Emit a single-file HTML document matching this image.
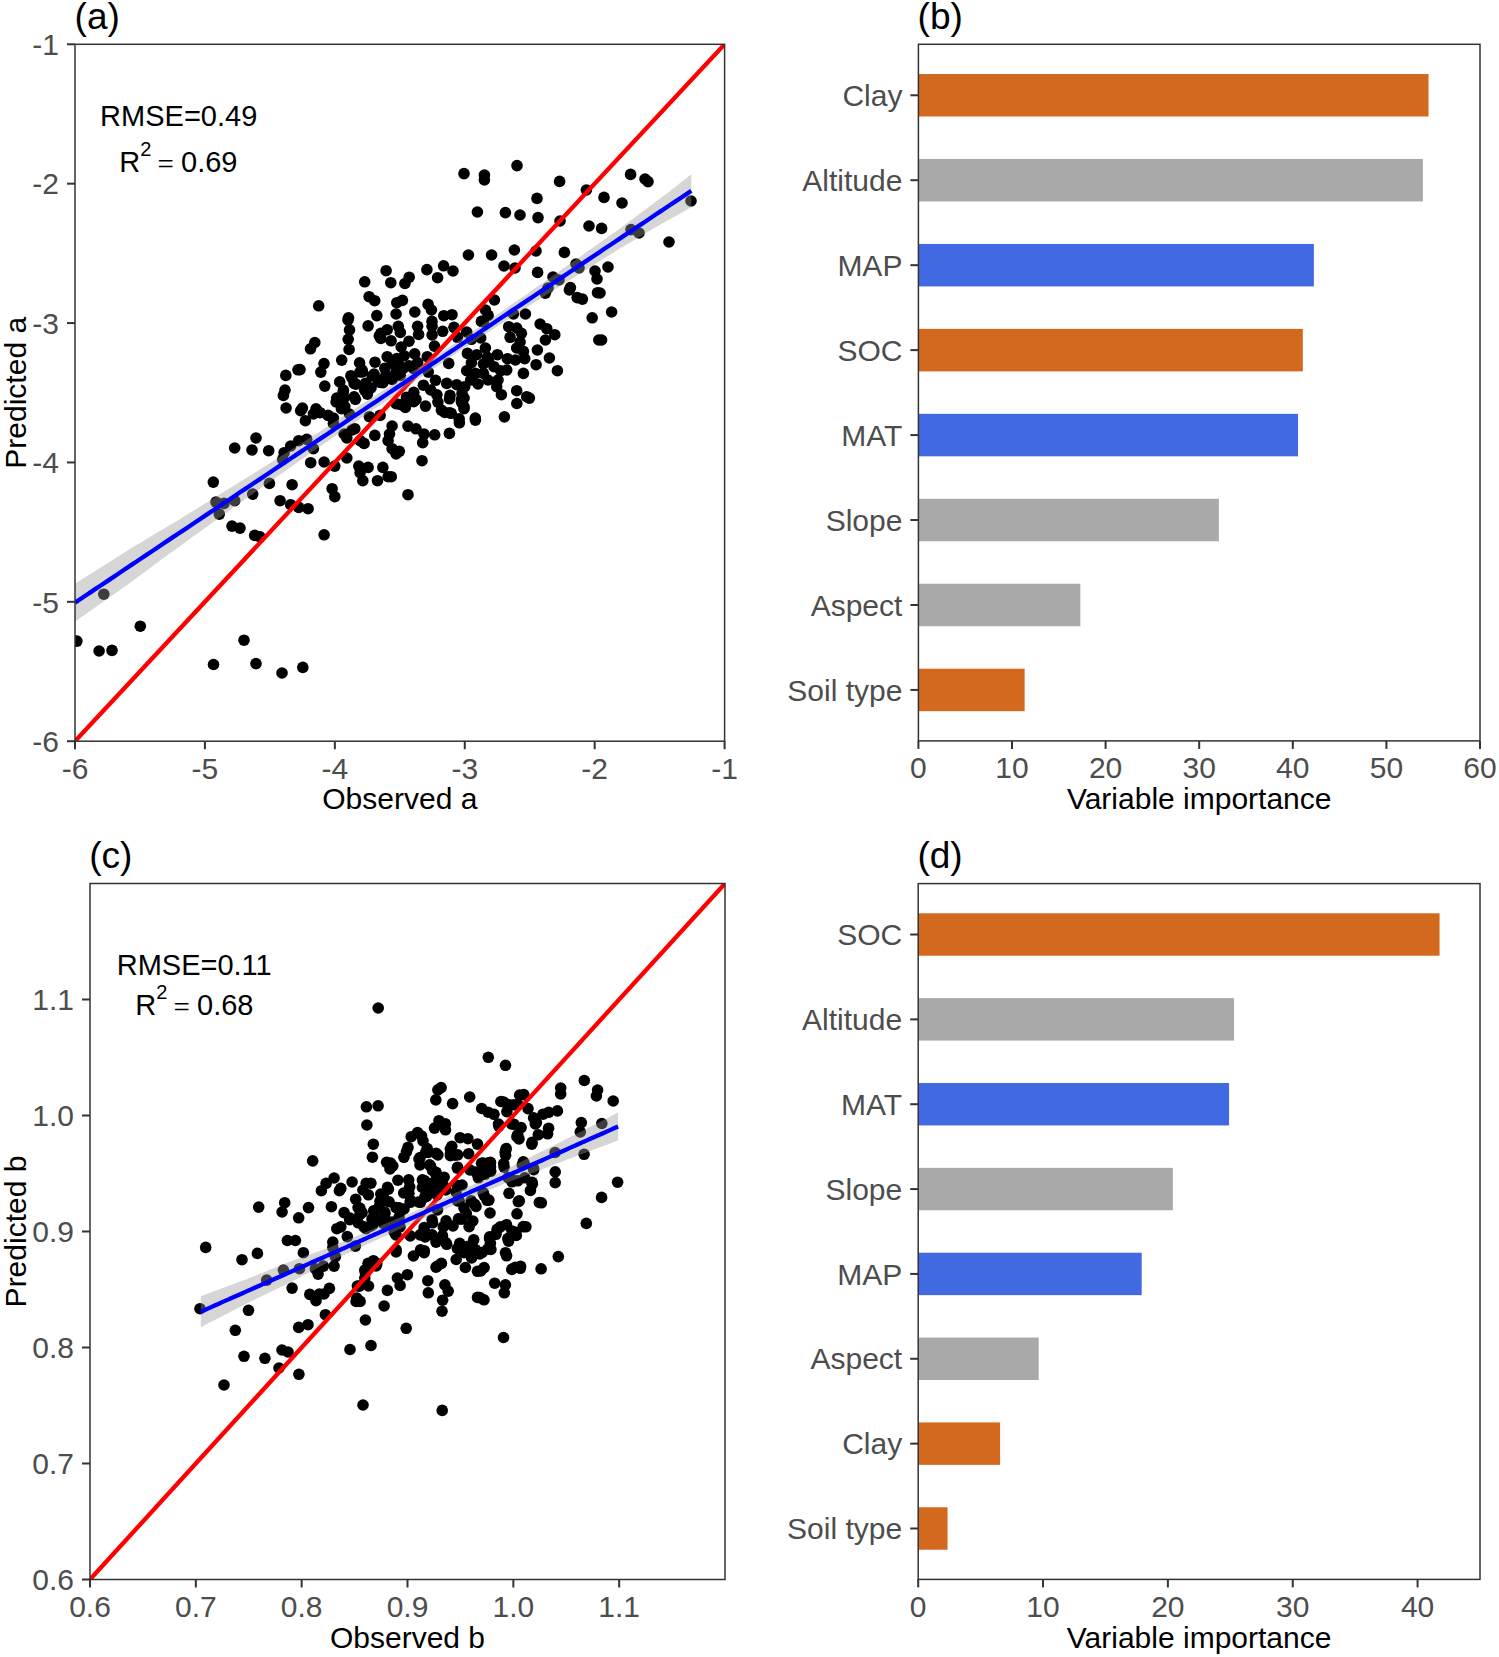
<!DOCTYPE html><html><head><meta charset="utf-8"><style>html,body{margin:0;padding:0;background:#fff;} svg{display:block} text{font-family:"Liberation Sans", sans-serif;}</style></head><body>
<svg width="1499" height="1657" viewBox="0 0 1499 1657">
<rect width="1499" height="1657" fill="#fff"/>
<clipPath id="ca"><rect x="75.0" y="44.3" width="649.6" height="696.9000000000001"/></clipPath>
<g clip-path="url(#ca)">
<g fill="#000"><circle cx="464.0" cy="173.6" r="5.8"/><circle cx="484.4" cy="175.0" r="5.8"/><circle cx="484.4" cy="180.0" r="5.8"/><circle cx="517.0" cy="165.6" r="5.8"/><circle cx="559.6" cy="181.4" r="5.8"/><circle cx="537.0" cy="198.4" r="5.8"/><circle cx="586.4" cy="190.0" r="5.8"/><circle cx="604.0" cy="197.4" r="5.8"/><circle cx="622.0" cy="203.0" r="5.8"/><circle cx="630.6" cy="174.4" r="5.8"/><circle cx="645.0" cy="179.0" r="5.8"/><circle cx="648.0" cy="181.6" r="5.8"/><circle cx="691.0" cy="201.0" r="5.8"/><circle cx="477.4" cy="212.0" r="5.8"/><circle cx="505.4" cy="212.6" r="5.8"/><circle cx="520.0" cy="215.0" r="5.8"/><circle cx="538.0" cy="217.6" r="5.8"/><circle cx="560.0" cy="221.0" r="5.8"/><circle cx="589.0" cy="226.0" r="5.8"/><circle cx="601.6" cy="228.4" r="5.8"/><circle cx="631.0" cy="229.6" r="5.8"/><circle cx="639.0" cy="233.0" r="5.8"/><circle cx="669.0" cy="242.0" r="5.8"/><circle cx="468.4" cy="255.0" r="5.8"/><circle cx="491.6" cy="255.0" r="5.8"/><circle cx="514.4" cy="250.0" r="5.8"/><circle cx="536.0" cy="251.0" r="5.8"/><circle cx="564.4" cy="252.4" r="5.8"/><circle cx="576.0" cy="264.0" r="5.8"/><circle cx="579.0" cy="268.0" r="5.8"/><circle cx="504.0" cy="266.0" r="5.8"/><circle cx="515.0" cy="268.0" r="5.8"/><circle cx="537.6" cy="272.4" r="5.8"/><circle cx="595.0" cy="271.0" r="5.8"/><circle cx="597.0" cy="279.0" r="5.8"/><circle cx="608.0" cy="267.0" r="5.8"/><circle cx="426.9" cy="269.6" r="5.8"/><circle cx="443.6" cy="265.8" r="5.8"/><circle cx="453.0" cy="271.0" r="5.8"/><circle cx="437.6" cy="277.7" r="5.8"/><circle cx="409.2" cy="277.2" r="5.8"/><circle cx="404.9" cy="283.5" r="5.8"/><circle cx="553.0" cy="277.0" r="5.8"/><circle cx="559.0" cy="280.0" r="5.8"/><circle cx="548.0" cy="288.0" r="5.8"/><circle cx="545.3" cy="293.2" r="5.8"/><circle cx="570.4" cy="287.6" r="5.8"/><circle cx="600.0" cy="293.0" r="5.8"/><circle cx="577.2" cy="297.6" r="5.8"/><circle cx="582.4" cy="299.1" r="5.8"/><circle cx="494.4" cy="300.0" r="5.8"/><circle cx="611.6" cy="312.0" r="5.8"/><circle cx="592.2" cy="317.8" r="5.8"/><circle cx="601.6" cy="340.0" r="5.8"/><circle cx="569.4" cy="290.0" r="5.8"/><circle cx="597.5" cy="292.7" r="5.8"/><circle cx="386.1" cy="270.7" r="5.8"/><circle cx="390.8" cy="282.7" r="5.8"/><circle cx="364.7" cy="281.8" r="5.8"/><circle cx="369.1" cy="296.7" r="5.8"/><circle cx="374.7" cy="300.7" r="5.8"/><circle cx="396.8" cy="302.7" r="5.8"/><circle cx="402.4" cy="300.4" r="5.8"/><circle cx="428.1" cy="304.4" r="5.8"/><circle cx="431.4" cy="310.0" r="5.8"/><circle cx="318.7" cy="305.8" r="5.8"/><circle cx="376.8" cy="315.6" r="5.8"/><circle cx="396.1" cy="314.0" r="5.8"/><circle cx="414.8" cy="312.0" r="5.8"/><circle cx="348.5" cy="317.8" r="5.8"/><circle cx="368.1" cy="325.9" r="5.8"/><circle cx="443.8" cy="315.7" r="5.8"/><circle cx="349.5" cy="329.9" r="5.8"/><circle cx="348.2" cy="339.3" r="5.8"/><circle cx="349.1" cy="349.5" r="5.8"/><circle cx="380.8" cy="333.4" r="5.8"/><circle cx="380.8" cy="338.5" r="5.8"/><circle cx="314.8" cy="342.5" r="5.8"/><circle cx="310.5" cy="348.8" r="5.8"/><circle cx="341.7" cy="360.1" r="5.8"/><circle cx="324.0" cy="363.6" r="5.8"/><circle cx="320.8" cy="372.1" r="5.8"/><circle cx="298.0" cy="369.8" r="5.8"/><circle cx="285.8" cy="375.4" r="5.8"/><circle cx="285.0" cy="390.1" r="5.8"/><circle cx="283.4" cy="395.4" r="5.8"/><circle cx="324.8" cy="386.1" r="5.8"/><circle cx="359.6" cy="362.9" r="5.8"/><circle cx="375.0" cy="362.2" r="5.8"/><circle cx="350.9" cy="375.7" r="5.8"/><circle cx="362.1" cy="370.1" r="5.8"/><circle cx="374.1" cy="374.1" r="5.8"/><circle cx="339.7" cy="381.9" r="5.8"/><circle cx="343.4" cy="390.1" r="5.8"/><circle cx="354.1" cy="383.4" r="5.8"/><circle cx="364.7" cy="390.1" r="5.8"/><circle cx="365.6" cy="383.2" r="5.8"/><circle cx="378.1" cy="380.4" r="5.8"/><circle cx="336.7" cy="398.1" r="5.8"/><circle cx="354.1" cy="396.8" r="5.8"/><circle cx="367.4" cy="394.1" r="5.8"/><circle cx="452.0" cy="314.7" r="5.8"/><circle cx="432.0" cy="321.4" r="5.8"/><circle cx="485.4" cy="310.0" r="5.8"/><circle cx="488.1" cy="315.4" r="5.8"/><circle cx="481.4" cy="321.4" r="5.8"/><circle cx="525.4" cy="314.0" r="5.8"/><circle cx="513.4" cy="314.0" r="5.8"/><circle cx="540.1" cy="324.0" r="5.8"/><circle cx="546.8" cy="328.7" r="5.8"/><circle cx="554.8" cy="334.7" r="5.8"/><circle cx="545.4" cy="340.0" r="5.8"/><circle cx="537.4" cy="350.0" r="5.8"/><circle cx="549.4" cy="358.0" r="5.8"/><circle cx="557.4" cy="370.7" r="5.8"/><circle cx="536.1" cy="364.7" r="5.8"/><circle cx="516.8" cy="403.5" r="5.8"/><circle cx="529.4" cy="398.1" r="5.8"/><circle cx="504.4" cy="416.9" r="5.8"/><circle cx="416.0" cy="399.4" r="5.8"/><circle cx="425.5" cy="406.1" r="5.8"/><circle cx="437.9" cy="402.1" r="5.8"/><circle cx="449.5" cy="398.8" r="5.8"/><circle cx="461.4" cy="399.4" r="5.8"/><circle cx="441.4" cy="410.1" r="5.8"/><circle cx="449.4" cy="412.7" r="5.8"/><circle cx="464.0" cy="408.7" r="5.8"/><circle cx="459.4" cy="422.8" r="5.8"/><circle cx="475.4" cy="420.1" r="5.8"/><circle cx="408.0" cy="426.1" r="5.8"/><circle cx="416.0" cy="428.8" r="5.8"/><circle cx="424.0" cy="434.1" r="5.8"/><circle cx="434.7" cy="434.8" r="5.8"/><circle cx="449.4" cy="433.4" r="5.8"/><circle cx="598.8" cy="340.0" r="5.8"/><circle cx="405.3" cy="407.4" r="5.8"/><circle cx="461.4" cy="402.1" r="5.8"/><circle cx="286.1" cy="408.0" r="5.8"/><circle cx="300.7" cy="410.7" r="5.8"/><circle cx="305.4" cy="420.7" r="5.8"/><circle cx="313.4" cy="414.0" r="5.8"/><circle cx="320.1" cy="412.7" r="5.8"/><circle cx="328.1" cy="415.4" r="5.8"/><circle cx="333.4" cy="418.0" r="5.8"/><circle cx="336.1" cy="401.9" r="5.8"/><circle cx="344.1" cy="398.0" r="5.8"/><circle cx="355.4" cy="399.3" r="5.8"/><circle cx="333.4" cy="423.4" r="5.8"/><circle cx="341.4" cy="408.7" r="5.8"/><circle cx="349.4" cy="414.0" r="5.8"/><circle cx="369.4" cy="416.7" r="5.8"/><circle cx="380.1" cy="415.4" r="5.8"/><circle cx="392.1" cy="426.0" r="5.8"/><circle cx="389.5" cy="434.0" r="5.8"/><circle cx="388.1" cy="440.7" r="5.8"/><circle cx="392.1" cy="448.7" r="5.8"/><circle cx="396.1" cy="454.0" r="5.8"/><circle cx="396.1" cy="403.7" r="5.8"/><circle cx="344.1" cy="434.0" r="5.8"/><circle cx="352.1" cy="430.0" r="5.8"/><circle cx="360.1" cy="440.7" r="5.8"/><circle cx="364.1" cy="443.4" r="5.8"/><circle cx="346.8" cy="438.0" r="5.8"/><circle cx="374.8" cy="435.4" r="5.8"/><circle cx="354.8" cy="428.7" r="5.8"/><circle cx="256.0" cy="438.0" r="5.8"/><circle cx="234.7" cy="448.0" r="5.8"/><circle cx="252.0" cy="450.0" r="5.8"/><circle cx="268.7" cy="450.7" r="5.8"/><circle cx="298.7" cy="440.7" r="5.8"/><circle cx="306.7" cy="439.4" r="5.8"/><circle cx="290.7" cy="446.0" r="5.8"/><circle cx="284.1" cy="452.7" r="5.8"/><circle cx="282.7" cy="459.4" r="5.8"/><circle cx="313.4" cy="448.7" r="5.8"/><circle cx="310.7" cy="462.7" r="5.8"/><circle cx="324.1" cy="462.0" r="5.8"/><circle cx="334.8" cy="466.1" r="5.8"/><circle cx="346.8" cy="458.0" r="5.8"/><circle cx="358.8" cy="466.1" r="5.8"/><circle cx="368.1" cy="467.4" r="5.8"/><circle cx="382.8" cy="467.4" r="5.8"/><circle cx="388.1" cy="476.7" r="5.8"/><circle cx="377.5" cy="480.7" r="5.8"/><circle cx="362.8" cy="480.7" r="5.8"/><circle cx="360.1" cy="472.7" r="5.8"/><circle cx="213.3" cy="482.1" r="5.8"/><circle cx="269.4" cy="483.4" r="5.8"/><circle cx="292.1" cy="484.7" r="5.8"/><circle cx="332.1" cy="488.7" r="5.8"/><circle cx="334.8" cy="496.7" r="5.8"/><circle cx="216.0" cy="502.1" r="5.8"/><circle cx="224.0" cy="503.4" r="5.8"/><circle cx="234.7" cy="500.7" r="5.8"/><circle cx="252.7" cy="494.1" r="5.8"/><circle cx="219.3" cy="514.1" r="5.8"/><circle cx="280.1" cy="500.7" r="5.8"/><circle cx="290.7" cy="504.7" r="5.8"/><circle cx="298.7" cy="507.4" r="5.8"/><circle cx="308.1" cy="508.7" r="5.8"/><circle cx="232.0" cy="526.1" r="5.8"/><circle cx="240.0" cy="528.1" r="5.8"/><circle cx="254.7" cy="535.4" r="5.8"/><circle cx="260.0" cy="536.8" r="5.8"/><circle cx="324.1" cy="534.8" r="5.8"/><circle cx="422.7" cy="442.7" r="5.8"/><circle cx="422.0" cy="460.7" r="5.8"/><circle cx="399.3" cy="451.3" r="5.8"/><circle cx="391.3" cy="476.7" r="5.8"/><circle cx="408.0" cy="494.7" r="5.8"/><circle cx="103.8" cy="594.2" r="5.8"/><circle cx="140.3" cy="626.2" r="5.8"/><circle cx="76.9" cy="641.1" r="5.8"/><circle cx="99.1" cy="651.0" r="5.8"/><circle cx="112.0" cy="650.4" r="5.8"/><circle cx="244.0" cy="640.2" r="5.8"/><circle cx="213.5" cy="664.5" r="5.8"/><circle cx="256.0" cy="663.6" r="5.8"/><circle cx="282.0" cy="673.0" r="5.8"/><circle cx="302.8" cy="667.4" r="5.8"/><circle cx="412.0" cy="400.5" r="5.8"/><circle cx="464.1" cy="398.1" r="5.8"/><circle cx="464.1" cy="406.9" r="5.8"/><circle cx="444.8" cy="412.5" r="5.8"/><circle cx="451.2" cy="413.3" r="5.8"/><circle cx="475.3" cy="418.1" r="5.8"/><circle cx="459.2" cy="418.9" r="5.8"/><circle cx="400.0" cy="404.5" r="5.8"/><circle cx="348.0" cy="320.0" r="5.8"/><circle cx="300.0" cy="369.6" r="5.8"/><circle cx="379.3" cy="336.0" r="5.8"/><circle cx="362.4" cy="372.0" r="5.8"/><circle cx="372.1" cy="376.0" r="5.8"/><circle cx="380.1" cy="382.4" r="5.8"/><circle cx="356.0" cy="384.1" r="5.8"/><circle cx="366.5" cy="392.1" r="5.8"/><circle cx="343.2" cy="392.1" r="5.8"/><circle cx="344.8" cy="406.5" r="5.8"/><circle cx="413.7" cy="401.7" r="5.8"/><circle cx="302.4" cy="408.1" r="5.8"/><circle cx="316.0" cy="408.9" r="5.8"/><circle cx="352.0" cy="378.0" r="5.8"/><circle cx="360.0" cy="372.0" r="5.8"/><circle cx="371.0" cy="388.0" r="5.8"/><circle cx="442.7" cy="331.3" r="5.8"/><circle cx="454.0" cy="327.3" r="5.8"/><circle cx="466.7" cy="332.0" r="5.8"/><circle cx="457.4" cy="337.3" r="5.8"/><circle cx="483.4" cy="322.0" r="5.8"/><circle cx="480.7" cy="338.0" r="5.8"/><circle cx="471.4" cy="339.3" r="5.8"/><circle cx="508.7" cy="326.7" r="5.8"/><circle cx="516.7" cy="328.0" r="5.8"/><circle cx="521.4" cy="333.3" r="5.8"/><circle cx="510.1" cy="337.3" r="5.8"/><circle cx="520.1" cy="342.0" r="5.8"/><circle cx="448.7" cy="363.4" r="5.8"/><circle cx="467.4" cy="353.4" r="5.8"/><circle cx="476.7" cy="354.7" r="5.8"/><circle cx="485.4" cy="348.0" r="5.8"/><circle cx="487.4" cy="357.4" r="5.8"/><circle cx="497.4" cy="354.7" r="5.8"/><circle cx="507.4" cy="358.7" r="5.8"/><circle cx="515.4" cy="360.0" r="5.8"/><circle cx="523.4" cy="351.4" r="5.8"/><circle cx="524.7" cy="358.7" r="5.8"/><circle cx="466.7" cy="370.7" r="5.8"/><circle cx="475.4" cy="373.4" r="5.8"/><circle cx="483.4" cy="373.4" r="5.8"/><circle cx="494.0" cy="366.7" r="5.8"/><circle cx="506.7" cy="370.0" r="5.8"/><circle cx="523.4" cy="373.4" r="5.8"/><circle cx="478.0" cy="384.0" r="5.8"/><circle cx="498.0" cy="380.0" r="5.8"/><circle cx="496.7" cy="386.7" r="5.8"/><circle cx="446.7" cy="383.4" r="5.8"/><circle cx="456.7" cy="384.7" r="5.8"/><circle cx="464.7" cy="386.7" r="5.8"/><circle cx="450.0" cy="395.4" r="5.8"/><circle cx="462.0" cy="393.4" r="5.8"/><circle cx="516.7" cy="390.7" r="5.8"/><circle cx="501.4" cy="394.7" r="5.8"/><circle cx="526.7" cy="396.7" r="5.8"/><circle cx="471.4" cy="362.7" r="5.8"/><circle cx="483.4" cy="364.0" r="5.8"/><circle cx="470.7" cy="380.0" r="5.8"/><circle cx="488.7" cy="361.4" r="5.8"/><circle cx="500.7" cy="370.7" r="5.8"/><circle cx="516.7" cy="348.0" r="5.8"/><circle cx="488.0" cy="380.0" r="5.8"/><circle cx="387.2" cy="329.7" r="5.8"/><circle cx="398.3" cy="326.3" r="5.8"/><circle cx="400.3" cy="332.5" r="5.8"/><circle cx="417.6" cy="326.3" r="5.8"/><circle cx="418.6" cy="334.5" r="5.8"/><circle cx="432.1" cy="326.3" r="5.8"/><circle cx="432.1" cy="335.0" r="5.8"/><circle cx="391.1" cy="340.8" r="5.8"/><circle cx="401.2" cy="347.0" r="5.8"/><circle cx="409.0" cy="341.2" r="5.8"/><circle cx="434.5" cy="346.1" r="5.8"/><circle cx="387.2" cy="356.7" r="5.8"/><circle cx="414.7" cy="353.8" r="5.8"/><circle cx="427.3" cy="356.7" r="5.8"/><circle cx="396.9" cy="358.6" r="5.8"/><circle cx="404.1" cy="355.7" r="5.8"/><circle cx="417.6" cy="362.5" r="5.8"/><circle cx="409.0" cy="365.8" r="5.8"/><circle cx="399.3" cy="365.4" r="5.8"/><circle cx="392.1" cy="363.4" r="5.8"/><circle cx="384.8" cy="368.3" r="5.8"/><circle cx="385.8" cy="375.5" r="5.8"/><circle cx="395.9" cy="372.1" r="5.8"/><circle cx="403.2" cy="368.3" r="5.8"/><circle cx="413.8" cy="368.7" r="5.8"/><circle cx="382.9" cy="382.7" r="5.8"/><circle cx="392.1" cy="379.4" r="5.8"/><circle cx="400.3" cy="375.5" r="5.8"/><circle cx="428.3" cy="372.1" r="5.8"/><circle cx="435.5" cy="380.3" r="5.8"/><circle cx="423.4" cy="385.2" r="5.8"/><circle cx="430.7" cy="390.0" r="5.8"/><circle cx="413.8" cy="392.4" r="5.8"/><circle cx="436.9" cy="394.8" r="5.8"/><circle cx="406.5" cy="397.2" r="5.8"/></g>
<line x1="75.0" y1="741.2" x2="724.6" y2="44.3" stroke="#FF0000" stroke-width="4.3"/>
<polygon points="75.0,583.7 80.1,580.4 85.3,577.2 90.4,573.9 95.5,570.7 100.7,567.4 105.8,564.2 111.0,560.9 116.1,557.7 121.2,554.5 126.4,551.2 131.5,548.0 136.6,544.9 141.8,541.9 146.9,538.8 152.0,535.7 157.2,532.6 162.3,529.6 167.4,526.5 172.6,523.4 177.7,520.4 182.9,517.2 188.0,514.1 193.1,510.9 198.3,507.7 203.4,504.5 208.5,501.4 213.7,498.2 218.8,495.0 223.9,491.8 229.1,488.6 234.2,485.5 239.3,482.3 244.5,479.1 249.6,475.9 254.8,472.7 259.9,469.5 265.0,466.2 270.2,463.0 275.3,459.7 280.4,456.5 285.6,453.2 290.7,450.0 295.8,446.7 301.0,443.5 306.1,440.2 311.2,437.0 316.4,433.7 321.5,430.4 326.7,427.1 331.8,423.8 336.9,420.5 342.1,417.1 347.2,413.8 352.3,410.5 357.5,407.1 362.6,403.8 367.7,400.5 372.9,397.2 378.0,393.8 383.1,390.5 388.3,387.2 393.4,383.8 398.6,380.5 403.7,377.2 408.8,373.8 414.0,370.5 419.1,367.2 424.2,363.8 429.4,360.3 434.5,356.9 439.6,353.5 444.8,350.0 449.9,346.6 455.1,343.2 460.2,339.7 465.3,336.3 470.5,332.9 475.6,329.5 480.7,326.0 485.9,322.4 491.0,318.9 496.1,315.3 501.3,311.8 506.4,308.2 511.5,304.6 516.7,301.1 521.8,297.5 527.0,294.0 532.1,290.4 537.2,286.8 542.4,283.2 547.5,279.6 552.6,276.0 557.8,272.4 562.9,268.7 568.0,265.1 573.2,261.5 578.3,257.9 583.4,254.2 588.6,250.6 593.7,247.0 598.9,243.4 604.0,239.7 609.1,236.1 614.3,232.5 619.4,228.9 624.5,225.1 629.7,221.2 634.8,217.4 639.9,213.6 645.1,209.7 650.2,205.9 655.3,202.1 660.5,198.2 665.6,194.4 670.8,190.4 675.9,186.4 681.0,182.3 686.2,178.3 691.3,174.3 691.3,207.3 686.2,210.1 681.0,213.0 675.9,215.8 670.8,218.7 665.6,221.5 660.5,224.5 655.3,227.6 650.2,230.6 645.1,233.6 639.9,236.7 634.8,239.7 629.7,242.7 624.5,245.8 619.4,248.8 614.3,252.1 609.1,255.3 604.0,258.5 598.9,261.8 593.7,265.0 588.6,268.3 583.4,271.5 578.3,274.7 573.2,278.0 568.0,281.2 562.9,284.5 557.8,287.7 552.6,290.9 547.5,294.2 542.4,297.4 537.2,300.7 532.1,304.0 527.0,307.3 521.8,310.6 516.7,313.9 511.5,317.2 506.4,320.5 501.3,323.8 496.1,327.1 491.0,330.4 485.9,333.7 480.7,337.0 475.6,340.5 470.5,343.9 465.3,347.3 460.2,350.7 455.1,354.2 449.9,357.6 444.8,361.0 439.6,364.5 434.5,367.9 429.4,371.3 424.2,374.8 419.1,378.2 414.0,381.8 408.8,385.3 403.7,388.8 398.6,392.4 393.4,395.9 388.3,399.4 383.1,403.0 378.0,406.5 372.9,410.0 367.7,413.6 362.6,417.1 357.5,420.6 352.3,424.2 347.2,427.7 342.1,431.2 336.9,434.8 331.8,438.3 326.7,441.9 321.5,445.4 316.4,449.0 311.2,452.6 306.1,456.2 301.0,459.8 295.8,463.4 290.7,467.1 285.6,470.7 280.4,474.3 275.3,477.9 270.2,481.5 265.0,485.1 259.9,488.7 254.8,492.4 249.6,496.0 244.5,499.7 239.3,503.4 234.2,507.1 229.1,510.7 223.9,514.4 218.8,518.1 213.7,521.8 208.5,525.5 203.4,529.2 198.3,532.9 193.1,536.6 188.0,540.3 182.9,543.9 177.7,547.7 172.6,551.5 167.4,555.3 162.3,559.1 157.2,562.8 152.0,566.6 146.9,570.4 141.8,574.2 136.6,578.0 131.5,581.8 126.4,585.5 121.2,589.1 116.1,592.7 111.0,596.3 105.8,599.9 100.7,603.6 95.5,607.2 90.4,610.8 85.3,614.4 80.1,618.0 75.0,621.7" fill="#999999" fill-opacity="0.4"/>
<path d="M75.0,602.7 L80.1,599.2 L85.3,595.8 L90.4,592.4 L95.5,588.9 L100.7,585.5 L105.8,582.1 L111.0,578.6 L116.1,575.2 L121.2,571.8 L126.4,568.3 L131.5,564.9 L136.6,561.5 L141.8,558.0 L146.9,554.6 L152.0,551.2 L157.2,547.7 L162.3,544.3 L167.4,540.9 L172.6,537.4 L177.7,534.0 L182.9,530.6 L188.0,527.2 L193.1,523.7 L198.3,520.3 L203.4,516.9 L208.5,513.4 L213.7,510.0 L218.8,506.6 L223.9,503.1 L229.1,499.7 L234.2,496.3 L239.3,492.8 L244.5,489.4 L249.6,486.0 L254.8,482.5 L259.9,479.1 L265.0,475.7 L270.2,472.2 L275.3,468.8 L280.4,465.4 L285.6,461.9 L290.7,458.5 L295.8,455.1 L301.0,451.6 L306.1,448.2 L311.2,444.8 L316.4,441.3 L321.5,437.9 L326.7,434.5 L331.8,431.1 L336.9,427.6 L342.1,424.2 L347.2,420.8 L352.3,417.3 L357.5,413.9 L362.6,410.5 L367.7,407.0 L372.9,403.6 L378.0,400.2 L383.1,396.7 L388.3,393.3 L393.4,389.9 L398.6,386.4 L403.7,383.0 L408.8,379.6 L414.0,376.1 L419.1,372.7 L424.2,369.3 L429.4,365.8 L434.5,362.4 L439.6,359.0 L444.8,355.5 L449.9,352.1 L455.1,348.7 L460.2,345.2 L465.3,341.8 L470.5,338.4 L475.6,335.0 L480.7,331.5 L485.9,328.1 L491.0,324.7 L496.1,321.2 L501.3,317.8 L506.4,314.4 L511.5,310.9 L516.7,307.5 L521.8,304.1 L527.0,300.6 L532.1,297.2 L537.2,293.8 L542.4,290.3 L547.5,286.9 L552.6,283.5 L557.8,280.0 L562.9,276.6 L568.0,273.2 L573.2,269.7 L578.3,266.3 L583.4,262.9 L588.6,259.4 L593.7,256.0 L598.9,252.6 L604.0,249.1 L609.1,245.7 L614.3,242.3 L619.4,238.9 L624.5,235.4 L629.7,232.0 L634.8,228.6 L639.9,225.1 L645.1,221.7 L650.2,218.3 L655.3,214.8 L660.5,211.4 L665.6,208.0 L670.8,204.5 L675.9,201.1 L681.0,197.7 L686.2,194.2 L691.3,190.8" fill="none" stroke="#0000FF" stroke-width="4.3"/>
</g>
<rect x="75.0" y="44.3" width="649.60" height="696.90" fill="none" stroke="#333333" stroke-width="1.5"/>
<line x1="75.00" y1="741.2" x2="75.00" y2="749.2" stroke="#333333" stroke-width="2"/>
<text x="75.00" y="778.7" text-anchor="middle" fill="#4D4D4D" font-size="30">-6</text>
<line x1="67.0" y1="741.20" x2="75.0" y2="741.20" stroke="#333333" stroke-width="2"/>
<text x="59.0" y="751.90" text-anchor="end" fill="#4D4D4D" font-size="30">-6</text>
<line x1="204.92" y1="741.2" x2="204.92" y2="749.2" stroke="#333333" stroke-width="2"/>
<text x="204.92" y="778.7" text-anchor="middle" fill="#4D4D4D" font-size="30">-5</text>
<line x1="67.0" y1="601.82" x2="75.0" y2="601.82" stroke="#333333" stroke-width="2"/>
<text x="59.0" y="612.52" text-anchor="end" fill="#4D4D4D" font-size="30">-5</text>
<line x1="334.84" y1="741.2" x2="334.84" y2="749.2" stroke="#333333" stroke-width="2"/>
<text x="334.84" y="778.7" text-anchor="middle" fill="#4D4D4D" font-size="30">-4</text>
<line x1="67.0" y1="462.44" x2="75.0" y2="462.44" stroke="#333333" stroke-width="2"/>
<text x="59.0" y="473.14" text-anchor="end" fill="#4D4D4D" font-size="30">-4</text>
<line x1="464.76" y1="741.2" x2="464.76" y2="749.2" stroke="#333333" stroke-width="2"/>
<text x="464.76" y="778.7" text-anchor="middle" fill="#4D4D4D" font-size="30">-3</text>
<line x1="67.0" y1="323.06" x2="75.0" y2="323.06" stroke="#333333" stroke-width="2"/>
<text x="59.0" y="333.76" text-anchor="end" fill="#4D4D4D" font-size="30">-3</text>
<line x1="594.68" y1="741.2" x2="594.68" y2="749.2" stroke="#333333" stroke-width="2"/>
<text x="594.68" y="778.7" text-anchor="middle" fill="#4D4D4D" font-size="30">-2</text>
<line x1="67.0" y1="183.68" x2="75.0" y2="183.68" stroke="#333333" stroke-width="2"/>
<text x="59.0" y="194.38" text-anchor="end" fill="#4D4D4D" font-size="30">-2</text>
<line x1="724.60" y1="741.2" x2="724.60" y2="749.2" stroke="#333333" stroke-width="2"/>
<text x="724.60" y="778.7" text-anchor="middle" fill="#4D4D4D" font-size="30">-1</text>
<line x1="67.0" y1="44.30" x2="75.0" y2="44.30" stroke="#333333" stroke-width="2"/>
<text x="59.0" y="55.00" text-anchor="end" fill="#4D4D4D" font-size="30">-1</text>
<text x="399.8" y="808.5" text-anchor="middle" fill="#000" font-size="30">Observed a</text>
<text transform="translate(25.8,392.8) rotate(-90)" text-anchor="middle" fill="#000" font-size="30">Predicted a</text>
<text x="74.6" y="28.5" fill="#000" font-size="37">(a)</text>
<clipPath id="cc"><rect x="90.0" y="883.5" width="635.0" height="696.0"/></clipPath>
<g clip-path="url(#cc)">
<g fill="#000"><circle cx="378.2" cy="1008.0" r="5.8"/><circle cx="488.3" cy="1057.3" r="5.8"/><circle cx="505.5" cy="1065.3" r="5.8"/><circle cx="224.0" cy="1385.0" r="5.8"/><circle cx="363.0" cy="1405.0" r="5.8"/><circle cx="442.2" cy="1410.4" r="5.8"/><circle cx="503.5" cy="1337.5" r="5.8"/><circle cx="558.3" cy="1256.6" r="5.8"/><circle cx="541.1" cy="1268.8" r="5.8"/><circle cx="586.3" cy="1223.4" r="5.8"/><circle cx="601.6" cy="1197.4" r="5.8"/><circle cx="617.6" cy="1182.2" r="5.8"/><circle cx="200.0" cy="1308.7" r="5.8"/><circle cx="235.3" cy="1330.3" r="5.8"/><circle cx="244.0" cy="1356.3" r="5.8"/><circle cx="264.9" cy="1358.3" r="5.8"/><circle cx="298.9" cy="1374.3" r="5.8"/><circle cx="282.0" cy="1350.0" r="5.8"/><circle cx="279.0" cy="1368.0" r="5.8"/><circle cx="350.0" cy="1349.5" r="5.8"/><circle cx="371.0" cy="1345.5" r="5.8"/><circle cx="406.2" cy="1328.3" r="5.8"/><circle cx="584.3" cy="1080.5" r="5.8"/><circle cx="597.6" cy="1090.0" r="5.8"/><circle cx="596.4" cy="1096.0" r="5.8"/><circle cx="613.2" cy="1101.0" r="5.8"/><circle cx="560.7" cy="1088.0" r="5.8"/><circle cx="560.7" cy="1094.0" r="5.8"/><circle cx="248.5" cy="1310.3" r="5.8"/><circle cx="288.0" cy="1352.0" r="5.8"/><circle cx="312.7" cy="1160.9" r="5.8"/><circle cx="372.4" cy="1157.2" r="5.8"/><circle cx="386.6" cy="1162.3" r="5.8"/><circle cx="334.1" cy="1178.0" r="5.8"/><circle cx="326.1" cy="1183.4" r="5.8"/><circle cx="321.4" cy="1190.7" r="5.8"/><circle cx="339.4" cy="1190.7" r="5.8"/><circle cx="352.1" cy="1182.0" r="5.8"/><circle cx="366.2" cy="1183.2" r="5.8"/><circle cx="370.9" cy="1183.2" r="5.8"/><circle cx="362.9" cy="1190.0" r="5.8"/><circle cx="368.4" cy="1194.8" r="5.8"/><circle cx="355.7" cy="1199.2" r="5.8"/><circle cx="358.1" cy="1207.4" r="5.8"/><circle cx="362.1" cy="1212.7" r="5.8"/><circle cx="344.1" cy="1212.6" r="5.8"/><circle cx="350.1" cy="1218.0" r="5.8"/><circle cx="358.2" cy="1222.8" r="5.8"/><circle cx="366.1" cy="1228.7" r="5.8"/><circle cx="380.8" cy="1194.0" r="5.8"/><circle cx="387.5" cy="1187.4" r="5.8"/><circle cx="379.5" cy="1206.0" r="5.8"/><circle cx="374.1" cy="1216.7" r="5.8"/><circle cx="384.8" cy="1214.0" r="5.8"/><circle cx="372.8" cy="1224.7" r="5.8"/><circle cx="383.5" cy="1223.4" r="5.8"/><circle cx="331.4" cy="1206.7" r="5.8"/><circle cx="258.7" cy="1207.1" r="5.8"/><circle cx="284.7" cy="1202.7" r="5.8"/><circle cx="282.1" cy="1212.0" r="5.8"/><circle cx="308.5" cy="1207.6" r="5.8"/><circle cx="298.7" cy="1217.8" r="5.8"/><circle cx="336.8" cy="1228.7" r="5.8"/><circle cx="347.3" cy="1236.6" r="5.8"/><circle cx="287.4" cy="1240.5" r="5.8"/><circle cx="295.4" cy="1240.5" r="5.8"/><circle cx="332.8" cy="1242.1" r="5.8"/><circle cx="332.8" cy="1247.4" r="5.8"/><circle cx="303.4" cy="1252.7" r="5.8"/><circle cx="355.4" cy="1246.1" r="5.8"/><circle cx="335.4" cy="1256.7" r="5.8"/><circle cx="334.1" cy="1266.1" r="5.8"/><circle cx="323.4" cy="1266.1" r="5.8"/><circle cx="315.4" cy="1268.7" r="5.8"/><circle cx="318.1" cy="1274.1" r="5.8"/><circle cx="299.4" cy="1268.7" r="5.8"/><circle cx="283.4" cy="1270.1" r="5.8"/><circle cx="266.7" cy="1280.1" r="5.8"/><circle cx="205.7" cy="1247.4" r="5.8"/><circle cx="242.0" cy="1259.7" r="5.8"/><circle cx="257.4" cy="1253.4" r="5.8"/><circle cx="368.8" cy="1264.7" r="5.8"/><circle cx="364.8" cy="1270.1" r="5.8"/><circle cx="364.8" cy="1278.1" r="5.8"/><circle cx="376.8" cy="1263.4" r="5.8"/><circle cx="359.4" cy="1286.1" r="5.8"/><circle cx="368.5" cy="1286.0" r="5.8"/><circle cx="292.1" cy="1288.1" r="5.8"/><circle cx="309.8" cy="1294.4" r="5.8"/><circle cx="329.4" cy="1288.4" r="5.8"/><circle cx="319.4" cy="1294.1" r="5.8"/><circle cx="387.4" cy="1290.4" r="5.8"/><circle cx="356.8" cy="1298.1" r="5.8"/><circle cx="404.0" cy="1209.0" r="5.8"/><circle cx="453.0" cy="1226.0" r="5.8"/><circle cx="490.0" cy="1213.0" r="5.8"/><circle cx="390.0" cy="1169.0" r="5.8"/><circle cx="420.0" cy="1165.0" r="5.8"/><circle cx="470.0" cy="1170.0" r="5.8"/><circle cx="437.0" cy="1195.0" r="5.8"/><circle cx="462.0" cy="1185.0" r="5.8"/><circle cx="403.9" cy="1157.3" r="5.8"/><circle cx="419.0" cy="1159.0" r="5.8"/><circle cx="390.6" cy="1163.1" r="5.8"/><circle cx="428.4" cy="1152.4" r="5.8"/><circle cx="437.9" cy="1155.0" r="5.8"/><circle cx="450.4" cy="1155.6" r="5.8"/><circle cx="468.6" cy="1153.7" r="5.8"/><circle cx="505.2" cy="1152.4" r="5.8"/><circle cx="397.9" cy="1180.2" r="5.8"/><circle cx="408.7" cy="1179.8" r="5.8"/><circle cx="422.4" cy="1179.9" r="5.8"/><circle cx="432.6" cy="1170.5" r="5.8"/><circle cx="457.4" cy="1168.2" r="5.8"/><circle cx="483.1" cy="1163.1" r="5.8"/><circle cx="490.5" cy="1166.8" r="5.8"/><circle cx="477.5" cy="1174.3" r="5.8"/><circle cx="484.9" cy="1174.3" r="5.8"/><circle cx="504.1" cy="1167.1" r="5.8"/><circle cx="522.3" cy="1164.9" r="5.8"/><circle cx="388.4" cy="1189.2" r="5.8"/><circle cx="403.7" cy="1193.0" r="5.8"/><circle cx="422.4" cy="1187.5" r="5.8"/><circle cx="433.6" cy="1182.7" r="5.8"/><circle cx="441.0" cy="1189.2" r="5.8"/><circle cx="456.0" cy="1192.0" r="5.8"/><circle cx="389.1" cy="1201.8" r="5.8"/><circle cx="399.0" cy="1207.9" r="5.8"/><circle cx="410.2" cy="1202.3" r="5.8"/><circle cx="420.5" cy="1202.3" r="5.8"/><circle cx="509.0" cy="1193.3" r="5.8"/><circle cx="518.3" cy="1201.6" r="5.8"/><circle cx="517.0" cy="1213.8" r="5.8"/><circle cx="478.4" cy="1177.8" r="5.8"/><circle cx="512.0" cy="1181.8" r="5.8"/><circle cx="459.1" cy="1200.8" r="5.8"/><circle cx="474.7" cy="1204.2" r="5.8"/><circle cx="487.1" cy="1200.3" r="5.8"/><circle cx="466.3" cy="1213.5" r="5.8"/><circle cx="461.6" cy="1219.1" r="5.8"/><circle cx="472.8" cy="1221.0" r="5.8"/><circle cx="469.1" cy="1226.6" r="5.8"/><circle cx="437.5" cy="1209.9" r="5.8"/><circle cx="446.1" cy="1220.8" r="5.8"/><circle cx="432.6" cy="1222.8" r="5.8"/><circle cx="424.2" cy="1227.5" r="5.8"/><circle cx="385.0" cy="1219.1" r="5.8"/><circle cx="399.0" cy="1217.2" r="5.8"/><circle cx="394.3" cy="1232.2" r="5.8"/><circle cx="410.2" cy="1235.9" r="5.8"/><circle cx="425.2" cy="1236.9" r="5.8"/><circle cx="437.3" cy="1238.7" r="5.8"/><circle cx="445.7" cy="1242.5" r="5.8"/><circle cx="459.7" cy="1243.4" r="5.8"/><circle cx="473.7" cy="1239.7" r="5.8"/><circle cx="489.6" cy="1236.9" r="5.8"/><circle cx="497.1" cy="1229.4" r="5.8"/><circle cx="506.5" cy="1224.7" r="5.8"/><circle cx="515.8" cy="1232.2" r="5.8"/><circle cx="523.2" cy="1226.6" r="5.8"/><circle cx="487.7" cy="1249.0" r="5.8"/><circle cx="505.5" cy="1252.7" r="5.8"/><circle cx="420.5" cy="1249.9" r="5.8"/><circle cx="396.2" cy="1249.9" r="5.8"/><circle cx="469.1" cy="1249.0" r="5.8"/><circle cx="441.1" cy="1087.6" r="5.8"/><circle cx="437.9" cy="1089.8" r="5.8"/><circle cx="435.8" cy="1099.9" r="5.8"/><circle cx="452.6" cy="1103.6" r="5.8"/><circle cx="469.7" cy="1097.0" r="5.8"/><circle cx="366.4" cy="1106.8" r="5.8"/><circle cx="378.1" cy="1105.8" r="5.8"/><circle cx="366.9" cy="1125.0" r="5.8"/><circle cx="373.3" cy="1144.2" r="5.8"/><circle cx="481.7" cy="1108.5" r="5.8"/><circle cx="488.1" cy="1112.2" r="5.8"/><circle cx="494.0" cy="1114.3" r="5.8"/><circle cx="500.9" cy="1101.5" r="5.8"/><circle cx="509.4" cy="1104.7" r="5.8"/><circle cx="506.9" cy="1111.7" r="5.8"/><circle cx="518.0" cy="1104.7" r="5.8"/><circle cx="519.6" cy="1095.1" r="5.8"/><circle cx="498.8" cy="1126.1" r="5.8"/><circle cx="511.6" cy="1123.9" r="5.8"/><circle cx="516.9" cy="1136.7" r="5.8"/><circle cx="439.0" cy="1120.7" r="5.8"/><circle cx="445.4" cy="1123.9" r="5.8"/><circle cx="434.5" cy="1128.1" r="5.8"/><circle cx="445.5" cy="1129.8" r="5.8"/><circle cx="417.6" cy="1132.5" r="5.8"/><circle cx="411.2" cy="1136.7" r="5.8"/><circle cx="423.0" cy="1141.0" r="5.8"/><circle cx="460.1" cy="1137.7" r="5.8"/><circle cx="467.9" cy="1138.7" r="5.8"/><circle cx="477.5" cy="1144.1" r="5.8"/><circle cx="408.0" cy="1147.4" r="5.8"/><circle cx="427.2" cy="1148.5" r="5.8"/><circle cx="451.8" cy="1146.3" r="5.8"/><circle cx="506.2" cy="1148.5" r="5.8"/><circle cx="523.8" cy="1094.6" r="5.8"/><circle cx="503.7" cy="1102.0" r="5.8"/><circle cx="514.0" cy="1104.8" r="5.8"/><circle cx="528.0" cy="1108.6" r="5.8"/><circle cx="533.6" cy="1117.9" r="5.8"/><circle cx="536.4" cy="1122.6" r="5.8"/><circle cx="543.0" cy="1114.2" r="5.8"/><circle cx="548.6" cy="1112.3" r="5.8"/><circle cx="557.4" cy="1110.9" r="5.8"/><circle cx="513.9" cy="1124.2" r="5.8"/><circle cx="521.1" cy="1127.6" r="5.8"/><circle cx="517.7" cy="1134.7" r="5.8"/><circle cx="519.0" cy="1138.9" r="5.8"/><circle cx="548.6" cy="1128.2" r="5.8"/><circle cx="547.6" cy="1133.8" r="5.8"/><circle cx="538.3" cy="1134.7" r="5.8"/><circle cx="531.8" cy="1144.1" r="5.8"/><circle cx="505.6" cy="1150.6" r="5.8"/><circle cx="505.6" cy="1155.3" r="5.8"/><circle cx="581.3" cy="1122.6" r="5.8"/><circle cx="580.3" cy="1131.9" r="5.8"/><circle cx="601.8" cy="1123.5" r="5.8"/><circle cx="555.1" cy="1152.5" r="5.8"/><circle cx="584.1" cy="1154.3" r="5.8"/><circle cx="523.3" cy="1161.8" r="5.8"/><circle cx="503.7" cy="1163.7" r="5.8"/><circle cx="488.5" cy="1162.8" r="5.8"/><circle cx="490.7" cy="1171.3" r="5.8"/><circle cx="483.2" cy="1169.2" r="5.8"/><circle cx="533.4" cy="1168.1" r="5.8"/><circle cx="512.0" cy="1179.9" r="5.8"/><circle cx="524.8" cy="1177.8" r="5.8"/><circle cx="532.3" cy="1184.2" r="5.8"/><circle cx="530.4" cy="1190.5" r="5.8"/><circle cx="483.2" cy="1192.7" r="5.8"/><circle cx="541.4" cy="1202.8" r="5.8"/><circle cx="555.2" cy="1171.9" r="5.8"/><circle cx="555.2" cy="1182.6" r="5.8"/><circle cx="525.9" cy="1226.8" r="5.8"/><circle cx="500.3" cy="1226.8" r="5.8"/><circle cx="512.0" cy="1231.1" r="5.8"/><circle cx="516.3" cy="1235.4" r="5.8"/><circle cx="507.8" cy="1238.6" r="5.8"/><circle cx="496.0" cy="1234.3" r="5.8"/><circle cx="489.6" cy="1238.6" r="5.8"/><circle cx="490.9" cy="1249.4" r="5.8"/><circle cx="482.1" cy="1252.5" r="5.8"/><circle cx="506.6" cy="1255.8" r="5.8"/><circle cx="484.1" cy="1267.6" r="5.8"/><circle cx="515.2" cy="1267.4" r="5.8"/><circle cx="520.6" cy="1266.3" r="5.8"/><circle cx="316.0" cy="1300.7" r="5.8"/><circle cx="324.0" cy="1294.0" r="5.8"/><circle cx="325.4" cy="1314.7" r="5.8"/><circle cx="298.7" cy="1327.4" r="5.8"/><circle cx="308.0" cy="1324.7" r="5.8"/><circle cx="368.1" cy="1263.3" r="5.8"/><circle cx="365.4" cy="1272.7" r="5.8"/><circle cx="373.4" cy="1260.7" r="5.8"/><circle cx="376.1" cy="1266.0" r="5.8"/><circle cx="357.4" cy="1286.0" r="5.8"/><circle cx="356.1" cy="1301.4" r="5.8"/><circle cx="360.1" cy="1301.4" r="5.8"/><circle cx="365.4" cy="1320.0" r="5.8"/><circle cx="384.1" cy="1306.0" r="5.8"/><circle cx="397.4" cy="1278.0" r="5.8"/><circle cx="400.1" cy="1285.4" r="5.8"/><circle cx="407.4" cy="1274.7" r="5.8"/><circle cx="396.1" cy="1252.0" r="5.8"/><circle cx="413.4" cy="1256.0" r="5.8"/><circle cx="424.1" cy="1252.7" r="5.8"/><circle cx="427.8" cy="1280.7" r="5.8"/><circle cx="428.3" cy="1292.8" r="5.8"/><circle cx="437.4" cy="1266.0" r="5.8"/><circle cx="441.4" cy="1263.4" r="5.8"/><circle cx="444.9" cy="1284.8" r="5.8"/><circle cx="448.2" cy="1291.1" r="5.8"/><circle cx="442.6" cy="1300.2" r="5.8"/><circle cx="442.0" cy="1311.2" r="5.8"/><circle cx="456.2" cy="1259.5" r="5.8"/><circle cx="465.4" cy="1267.5" r="5.8"/><circle cx="471.6" cy="1258.0" r="5.8"/><circle cx="464.1" cy="1252.7" r="5.8"/><circle cx="477.5" cy="1271.3" r="5.8"/><circle cx="477.5" cy="1297.4" r="5.8"/><circle cx="424.3" cy="1250.7" r="5.8"/><circle cx="436.0" cy="1242.1" r="5.8"/><circle cx="446.7" cy="1244.3" r="5.8"/><circle cx="457.4" cy="1248.5" r="5.8"/><circle cx="468.0" cy="1246.4" r="5.8"/><circle cx="475.5" cy="1249.6" r="5.8"/><circle cx="479.8" cy="1253.9" r="5.8"/><circle cx="490.4" cy="1243.2" r="5.8"/><circle cx="436.0" cy="1267.2" r="5.8"/><circle cx="480.8" cy="1271.0" r="5.8"/><circle cx="508.6" cy="1241.1" r="5.8"/><circle cx="511.8" cy="1269.4" r="5.8"/><circle cx="520.3" cy="1268.3" r="5.8"/><circle cx="494.7" cy="1283.2" r="5.8"/><circle cx="505.4" cy="1284.8" r="5.8"/><circle cx="504.3" cy="1292.8" r="5.8"/><circle cx="479.8" cy="1297.6" r="5.8"/><circle cx="484.0" cy="1299.8" r="5.8"/><circle cx="392.8" cy="1166.0" r="5.8"/><circle cx="406.5" cy="1151.6" r="5.8"/><circle cx="425.7" cy="1152.4" r="5.8"/><circle cx="436.1" cy="1153.2" r="5.8"/><circle cx="450.5" cy="1153.2" r="5.8"/><circle cx="457.7" cy="1154.8" r="5.8"/><circle cx="430.5" cy="1166.0" r="5.8"/><circle cx="436.1" cy="1172.4" r="5.8"/><circle cx="444.1" cy="1177.2" r="5.8"/><circle cx="340.8" cy="1188.4" r="5.8"/><circle cx="409.7" cy="1186.8" r="5.8"/><circle cx="423.3" cy="1182.0" r="5.8"/><circle cx="433.7" cy="1186.0" r="5.8"/><circle cx="383.2" cy="1194.8" r="5.8"/><circle cx="408.9" cy="1193.2" r="5.8"/><circle cx="410.5" cy="1200.4" r="5.8"/><circle cx="418.5" cy="1202.0" r="5.8"/><circle cx="426.5" cy="1196.4" r="5.8"/><circle cx="438.5" cy="1183.6" r="5.8"/><circle cx="445.7" cy="1190.0" r="5.8"/><circle cx="456.9" cy="1185.2" r="5.8"/><circle cx="380.0" cy="1201.2" r="5.8"/><circle cx="396.0" cy="1207.6" r="5.8"/><circle cx="400.8" cy="1210.8" r="5.8"/><circle cx="373.6" cy="1210.8" r="5.8"/><circle cx="384.8" cy="1212.4" r="5.8"/><circle cx="372.0" cy="1218.9" r="5.8"/><circle cx="382.4" cy="1220.5" r="5.8"/><circle cx="360.0" cy="1208.4" r="5.8"/><circle cx="360.0" cy="1214.1" r="5.8"/><circle cx="349.6" cy="1219.7" r="5.8"/><circle cx="340.8" cy="1226.9" r="5.8"/><circle cx="364.0" cy="1226.9" r="5.8"/><circle cx="370.4" cy="1226.1" r="5.8"/><circle cx="392.0" cy="1222.1" r="5.8"/><circle cx="400.0" cy="1226.9" r="5.8"/><circle cx="432.1" cy="1219.7" r="5.8"/><circle cx="443.3" cy="1226.9" r="5.8"/><circle cx="424.1" cy="1230.1" r="5.8"/><circle cx="420.1" cy="1234.9" r="5.8"/><circle cx="432.1" cy="1234.9" r="5.8"/><circle cx="442.5" cy="1235.7" r="5.8"/><circle cx="458.5" cy="1218.9" r="5.8"/><circle cx="396.0" cy="1234.9" r="5.8"/><circle cx="444.0" cy="1124.8" r="5.8"/><circle cx="421.6" cy="1136.0" r="5.8"/><circle cx="450.4" cy="1148.8" r="5.8"/><circle cx="455.2" cy="1155.2" r="5.8"/><circle cx="420.0" cy="1157.6" r="5.8"/><circle cx="429.6" cy="1164.8" r="5.8"/><circle cx="457.6" cy="1167.2" r="5.8"/><circle cx="436.0" cy="1174.4" r="5.8"/><circle cx="424.8" cy="1180.8" r="5.8"/><circle cx="481.6" cy="1163.2" r="5.8"/><circle cx="490.5" cy="1162.4" r="5.8"/><circle cx="476.0" cy="1172.0" r="5.8"/><circle cx="487.3" cy="1171.2" r="5.8"/><circle cx="498.5" cy="1124.0" r="5.8"/><circle cx="532.1" cy="1142.4" r="5.8"/><circle cx="535.3" cy="1124.0" r="5.8"/><circle cx="524.1" cy="1163.2" r="5.8"/><circle cx="533.7" cy="1169.6" r="5.8"/><circle cx="508.1" cy="1177.6" r="5.8"/><circle cx="517.7" cy="1180.8" r="5.8"/><circle cx="532.1" cy="1182.4" r="5.8"/><circle cx="519.3" cy="1200.9" r="5.8"/><circle cx="539.3" cy="1202.5" r="5.8"/><circle cx="484.1" cy="1195.3" r="5.8"/><circle cx="488.9" cy="1200.1" r="5.8"/><circle cx="471.2" cy="1200.9" r="5.8"/><circle cx="476.0" cy="1206.5" r="5.8"/><circle cx="464.0" cy="1208.1" r="5.8"/><circle cx="444.0" cy="1186.5" r="5.8"/><circle cx="430.4" cy="1188.9" r="5.8"/><circle cx="424.8" cy="1196.9" r="5.8"/><circle cx="457.6" cy="1200.9" r="5.8"/></g>
<line x1="90.0" y1="1579.5" x2="725.0" y2="883.5" stroke="#FF0000" stroke-width="4.3"/>
<polygon points="200.8,1296.2 204.3,1294.9 207.8,1293.6 211.2,1292.3 214.7,1291.0 218.2,1289.7 221.7,1288.4 225.1,1287.1 228.6,1285.8 232.1,1284.5 235.6,1283.2 239.1,1281.9 242.5,1280.6 246.0,1279.4 249.5,1278.1 253.0,1276.7 256.4,1275.2 259.9,1273.8 263.4,1272.4 266.9,1271.0 270.4,1269.6 273.8,1268.2 277.3,1266.8 280.8,1265.4 284.3,1263.9 287.7,1262.5 291.2,1261.2 294.7,1259.9 298.2,1258.7 301.6,1257.5 305.1,1256.2 308.6,1255.0 312.1,1253.7 315.6,1252.5 319.0,1251.3 322.5,1250.0 326.0,1248.8 329.5,1247.6 332.9,1246.1 336.4,1244.6 339.9,1243.1 343.4,1241.6 346.9,1240.2 350.3,1238.7 353.8,1237.2 357.3,1235.7 360.8,1234.2 364.2,1232.7 367.7,1231.2 371.2,1229.8 374.7,1228.3 378.2,1226.8 381.6,1225.3 385.1,1223.8 388.6,1222.3 392.1,1220.9 395.5,1219.4 399.0,1217.9 402.5,1216.4 406.0,1214.9 409.5,1213.4 412.9,1211.9 416.4,1210.5 419.9,1209.0 423.4,1207.4 426.8,1205.8 430.3,1204.2 433.8,1202.6 437.3,1201.0 440.7,1199.5 444.2,1197.9 447.7,1196.3 451.2,1194.7 454.7,1193.1 458.1,1191.5 461.6,1189.9 465.1,1188.3 468.6,1186.8 472.0,1185.2 475.5,1183.6 479.0,1182.0 482.5,1180.4 486.0,1178.8 489.4,1177.2 492.9,1175.6 496.4,1174.1 499.9,1172.5 503.3,1170.7 506.8,1169.0 510.3,1167.2 513.8,1165.5 517.3,1163.8 520.7,1162.0 524.2,1160.3 527.7,1158.5 531.2,1156.8 534.6,1155.0 538.1,1153.3 541.6,1151.5 545.1,1149.8 548.5,1148.0 552.0,1146.3 555.5,1144.5 559.0,1142.8 562.5,1141.0 565.9,1139.3 569.4,1137.5 572.9,1135.7 576.4,1133.9 579.8,1132.2 583.3,1130.4 586.8,1128.6 590.3,1126.8 593.8,1125.0 597.2,1123.2 600.7,1121.5 604.2,1119.7 607.7,1117.9 611.1,1116.1 614.6,1114.3 618.1,1112.5 618.1,1140.5 614.6,1141.8 611.1,1143.1 607.7,1144.4 604.2,1145.7 600.7,1147.0 597.2,1148.3 593.8,1149.6 590.3,1150.9 586.8,1152.2 583.3,1153.5 579.8,1154.8 576.4,1156.1 572.9,1157.4 569.4,1158.7 565.9,1160.0 562.5,1161.4 559.0,1162.7 555.5,1164.0 552.0,1165.4 548.5,1166.7 545.1,1168.0 541.6,1169.4 538.1,1170.7 534.6,1172.1 531.2,1173.4 527.7,1174.7 524.2,1176.1 520.7,1177.4 517.3,1178.8 513.8,1180.1 510.3,1181.4 506.8,1182.8 503.3,1184.1 499.9,1185.5 496.4,1187.0 492.9,1188.5 489.4,1190.0 486.0,1191.5 482.5,1193.0 479.0,1194.5 475.5,1196.0 472.0,1197.5 468.6,1199.0 465.1,1200.5 461.6,1202.0 458.1,1203.5 454.7,1205.0 451.2,1206.5 447.7,1208.0 444.2,1209.5 440.7,1211.0 437.3,1212.5 433.8,1214.0 430.3,1215.5 426.8,1217.0 423.4,1218.5 419.9,1220.0 416.4,1221.6 412.9,1223.2 409.5,1224.8 406.0,1226.4 402.5,1228.0 399.0,1229.6 395.5,1231.2 392.1,1232.8 388.6,1234.4 385.1,1236.0 381.6,1237.6 378.2,1239.2 374.7,1240.8 371.2,1242.4 367.7,1244.0 364.2,1245.6 360.8,1247.2 357.3,1248.8 353.8,1250.4 350.3,1252.0 346.9,1253.6 343.4,1255.2 339.9,1256.8 336.4,1258.4 332.9,1260.0 329.5,1261.6 326.0,1263.5 322.5,1265.3 319.0,1267.2 315.6,1269.0 312.1,1270.9 308.6,1272.7 305.1,1274.6 301.6,1276.4 298.2,1278.3 294.7,1280.1 291.2,1282.0 287.7,1283.7 284.3,1285.4 280.8,1287.0 277.3,1288.7 273.8,1290.4 270.4,1292.1 266.9,1293.7 263.4,1295.4 259.9,1297.1 256.4,1298.8 253.0,1300.4 249.5,1302.1 246.0,1303.9 242.5,1305.7 239.1,1307.5 235.6,1309.3 232.1,1311.1 228.6,1312.9 225.1,1314.7 221.7,1316.5 218.2,1318.2 214.7,1320.0 211.2,1321.8 207.8,1323.6 204.3,1325.4 200.8,1327.2" fill="#999999" fill-opacity="0.4"/>
<path d="M200.8,1311.7 L204.3,1310.2 L207.8,1308.6 L211.2,1307.1 L214.7,1305.5 L218.2,1304.0 L221.7,1302.4 L225.1,1300.9 L228.6,1299.4 L232.1,1297.8 L235.6,1296.3 L239.1,1294.7 L242.5,1293.2 L246.0,1291.6 L249.5,1290.1 L253.0,1288.5 L256.4,1287.0 L259.9,1285.5 L263.4,1283.9 L266.9,1282.4 L270.4,1280.8 L273.8,1279.3 L277.3,1277.7 L280.8,1276.2 L284.3,1274.7 L287.7,1273.1 L291.2,1271.6 L294.7,1270.0 L298.2,1268.5 L301.6,1266.9 L305.1,1265.4 L308.6,1263.9 L312.1,1262.3 L315.6,1260.8 L319.0,1259.2 L322.5,1257.7 L326.0,1256.1 L329.5,1254.6 L332.9,1253.1 L336.4,1251.5 L339.9,1250.0 L343.4,1248.4 L346.9,1246.9 L350.3,1245.3 L353.8,1243.8 L357.3,1242.2 L360.8,1240.7 L364.2,1239.2 L367.7,1237.6 L371.2,1236.1 L374.7,1234.5 L378.2,1233.0 L381.6,1231.4 L385.1,1229.9 L388.6,1228.4 L392.1,1226.8 L395.5,1225.3 L399.0,1223.7 L402.5,1222.2 L406.0,1220.6 L409.5,1219.1 L412.9,1217.6 L416.4,1216.0 L419.9,1214.5 L423.4,1212.9 L426.8,1211.4 L430.3,1209.8 L433.8,1208.3 L437.3,1206.8 L440.7,1205.2 L444.2,1203.7 L447.7,1202.1 L451.2,1200.6 L454.7,1199.0 L458.1,1197.5 L461.6,1196.0 L465.1,1194.4 L468.6,1192.9 L472.0,1191.3 L475.5,1189.8 L479.0,1188.2 L482.5,1186.7 L486.0,1185.1 L489.4,1183.6 L492.9,1182.1 L496.4,1180.5 L499.9,1179.0 L503.3,1177.4 L506.8,1175.9 L510.3,1174.3 L513.8,1172.8 L517.3,1171.3 L520.7,1169.7 L524.2,1168.2 L527.7,1166.6 L531.2,1165.1 L534.6,1163.5 L538.1,1162.0 L541.6,1160.5 L545.1,1158.9 L548.5,1157.4 L552.0,1155.8 L555.5,1154.3 L559.0,1152.7 L562.5,1151.2 L565.9,1149.7 L569.4,1148.1 L572.9,1146.6 L576.4,1145.0 L579.8,1143.5 L583.3,1141.9 L586.8,1140.4 L590.3,1138.8 L593.8,1137.3 L597.2,1135.8 L600.7,1134.2 L604.2,1132.7 L607.7,1131.1 L611.1,1129.6 L614.6,1128.0 L618.1,1126.5" fill="none" stroke="#0000FF" stroke-width="4.3"/>
</g>
<rect x="90.0" y="883.5" width="635.00" height="696.00" fill="none" stroke="#333333" stroke-width="1.5"/>
<line x1="90.00" y1="1579.5" x2="90.00" y2="1587.5" stroke="#333333" stroke-width="2"/>
<text x="90.00" y="1617.0" text-anchor="middle" fill="#4D4D4D" font-size="30">0.6</text>
<line x1="82.0" y1="1579.50" x2="90.0" y2="1579.50" stroke="#333333" stroke-width="2"/>
<text x="74.0" y="1590.20" text-anchor="end" fill="#4D4D4D" font-size="30">0.6</text>
<line x1="195.83" y1="1579.5" x2="195.83" y2="1587.5" stroke="#333333" stroke-width="2"/>
<text x="195.83" y="1617.0" text-anchor="middle" fill="#4D4D4D" font-size="30">0.7</text>
<line x1="82.0" y1="1463.50" x2="90.0" y2="1463.50" stroke="#333333" stroke-width="2"/>
<text x="74.0" y="1474.20" text-anchor="end" fill="#4D4D4D" font-size="30">0.7</text>
<line x1="301.67" y1="1579.5" x2="301.67" y2="1587.5" stroke="#333333" stroke-width="2"/>
<text x="301.67" y="1617.0" text-anchor="middle" fill="#4D4D4D" font-size="30">0.8</text>
<line x1="82.0" y1="1347.50" x2="90.0" y2="1347.50" stroke="#333333" stroke-width="2"/>
<text x="74.0" y="1358.20" text-anchor="end" fill="#4D4D4D" font-size="30">0.8</text>
<line x1="407.50" y1="1579.5" x2="407.50" y2="1587.5" stroke="#333333" stroke-width="2"/>
<text x="407.50" y="1617.0" text-anchor="middle" fill="#4D4D4D" font-size="30">0.9</text>
<line x1="82.0" y1="1231.50" x2="90.0" y2="1231.50" stroke="#333333" stroke-width="2"/>
<text x="74.0" y="1242.20" text-anchor="end" fill="#4D4D4D" font-size="30">0.9</text>
<line x1="513.33" y1="1579.5" x2="513.33" y2="1587.5" stroke="#333333" stroke-width="2"/>
<text x="513.33" y="1617.0" text-anchor="middle" fill="#4D4D4D" font-size="30">1.0</text>
<line x1="82.0" y1="1115.50" x2="90.0" y2="1115.50" stroke="#333333" stroke-width="2"/>
<text x="74.0" y="1126.20" text-anchor="end" fill="#4D4D4D" font-size="30">1.0</text>
<line x1="619.17" y1="1579.5" x2="619.17" y2="1587.5" stroke="#333333" stroke-width="2"/>
<text x="619.17" y="1617.0" text-anchor="middle" fill="#4D4D4D" font-size="30">1.1</text>
<line x1="82.0" y1="999.50" x2="90.0" y2="999.50" stroke="#333333" stroke-width="2"/>
<text x="74.0" y="1010.20" text-anchor="end" fill="#4D4D4D" font-size="30">1.1</text>
<text x="407.5" y="1647.5" text-anchor="middle" fill="#000" font-size="30">Observed b</text>
<text transform="translate(25.8,1231.5) rotate(-90)" text-anchor="middle" fill="#000" font-size="30">Predicted b</text>
<text x="89.2" y="867.5" fill="#000" font-size="37">(c)</text>
<text x="100.1" y="125.7" fill="#000" font-size="29">RMSE=0.49</text>
<text x="119.3" y="171.7" fill="#000" font-size="29">R<tspan font-size="20" dy="-15.5">2</tspan><tspan dy="18.1" dx="6" font-size="29" font-family="Liberation Serif">=</tspan><tspan dy="-2.6" dx="7.3">0.69</tspan></text>
<text x="116.7" y="975.4" fill="#000" font-size="29">RMSE=0.11</text>
<text x="135.3" y="1014.7" fill="#000" font-size="29">R<tspan font-size="20" dy="-15.5">2</tspan><tspan dy="18.1" dx="6" font-size="29" font-family="Liberation Serif">=</tspan><tspan dy="-2.6" dx="7.3">0.68</tspan></text>
<rect x="918.4" y="74.03" width="510.12" height="42.48" fill="#D2691E"/>
<line x1="910.4" y1="95.27" x2="918.4" y2="95.27" stroke="#333333" stroke-width="2"/>
<text x="902.4" y="105.97" text-anchor="end" fill="#4D4D4D" font-size="30">Clay</text>
<rect x="918.4" y="158.98" width="504.50" height="42.48" fill="#A9A9A9"/>
<line x1="910.4" y1="180.22" x2="918.4" y2="180.22" stroke="#333333" stroke-width="2"/>
<text x="902.4" y="190.92" text-anchor="end" fill="#4D4D4D" font-size="30">Altitude</text>
<rect x="918.4" y="243.94" width="395.46" height="42.48" fill="#4169E1"/>
<line x1="910.4" y1="265.17" x2="918.4" y2="265.17" stroke="#333333" stroke-width="2"/>
<text x="902.4" y="275.87" text-anchor="end" fill="#4D4D4D" font-size="30">MAP</text>
<rect x="918.4" y="328.89" width="384.42" height="42.48" fill="#D2691E"/>
<line x1="910.4" y1="350.12" x2="918.4" y2="350.12" stroke="#333333" stroke-width="2"/>
<text x="902.4" y="360.82" text-anchor="end" fill="#4D4D4D" font-size="30">SOC</text>
<rect x="918.4" y="413.84" width="379.64" height="42.48" fill="#4169E1"/>
<line x1="910.4" y1="435.08" x2="918.4" y2="435.08" stroke="#333333" stroke-width="2"/>
<text x="902.4" y="445.78" text-anchor="end" fill="#4D4D4D" font-size="30">MAT</text>
<rect x="918.4" y="498.79" width="300.46" height="42.48" fill="#A9A9A9"/>
<line x1="910.4" y1="520.03" x2="918.4" y2="520.03" stroke="#333333" stroke-width="2"/>
<text x="902.4" y="530.73" text-anchor="end" fill="#4D4D4D" font-size="30">Slope</text>
<rect x="918.4" y="583.74" width="161.93" height="42.48" fill="#A9A9A9"/>
<line x1="910.4" y1="604.98" x2="918.4" y2="604.98" stroke="#333333" stroke-width="2"/>
<text x="902.4" y="615.68" text-anchor="end" fill="#4D4D4D" font-size="30">Aspect</text>
<rect x="918.4" y="668.69" width="106.24" height="42.48" fill="#D2691E"/>
<line x1="910.4" y1="689.93" x2="918.4" y2="689.93" stroke="#333333" stroke-width="2"/>
<text x="902.4" y="700.63" text-anchor="end" fill="#4D4D4D" font-size="30">Soil type</text>
<rect x="918.4" y="44.3" width="561.60" height="696.60" fill="none" stroke="#333333" stroke-width="1.5"/>
<line x1="918.40" y1="740.9" x2="918.40" y2="748.9" stroke="#333333" stroke-width="2"/>
<text x="918.40" y="778.4" text-anchor="middle" fill="#4D4D4D" font-size="30">0</text>
<line x1="1012.00" y1="740.9" x2="1012.00" y2="748.9" stroke="#333333" stroke-width="2"/>
<text x="1012.00" y="778.4" text-anchor="middle" fill="#4D4D4D" font-size="30">10</text>
<line x1="1105.60" y1="740.9" x2="1105.60" y2="748.9" stroke="#333333" stroke-width="2"/>
<text x="1105.60" y="778.4" text-anchor="middle" fill="#4D4D4D" font-size="30">20</text>
<line x1="1199.20" y1="740.9" x2="1199.20" y2="748.9" stroke="#333333" stroke-width="2"/>
<text x="1199.20" y="778.4" text-anchor="middle" fill="#4D4D4D" font-size="30">30</text>
<line x1="1292.80" y1="740.9" x2="1292.80" y2="748.9" stroke="#333333" stroke-width="2"/>
<text x="1292.80" y="778.4" text-anchor="middle" fill="#4D4D4D" font-size="30">40</text>
<line x1="1386.40" y1="740.9" x2="1386.40" y2="748.9" stroke="#333333" stroke-width="2"/>
<text x="1386.40" y="778.4" text-anchor="middle" fill="#4D4D4D" font-size="30">50</text>
<line x1="1480.00" y1="740.9" x2="1480.00" y2="748.9" stroke="#333333" stroke-width="2"/>
<text x="1480.00" y="778.4" text-anchor="middle" fill="#4D4D4D" font-size="30">60</text>
<text x="1199.2" y="808.5" text-anchor="middle" fill="#000" font-size="30">Variable importance</text>
<text x="917.6" y="28.5" fill="#000" font-size="37">(b)</text>
<rect x="918.2" y="913.30" width="521.35" height="42.43" fill="#D2691E"/>
<line x1="910.2" y1="934.51" x2="918.2" y2="934.51" stroke="#333333" stroke-width="2"/>
<text x="902.2" y="945.21" text-anchor="end" fill="#4D4D4D" font-size="30">SOC</text>
<rect x="918.2" y="998.15" width="315.86" height="42.43" fill="#A9A9A9"/>
<line x1="910.2" y1="1019.37" x2="918.2" y2="1019.37" stroke="#333333" stroke-width="2"/>
<text x="902.2" y="1030.07" text-anchor="end" fill="#4D4D4D" font-size="30">Altitude</text>
<rect x="918.2" y="1083.01" width="310.86" height="42.43" fill="#4169E1"/>
<line x1="910.2" y1="1104.22" x2="918.2" y2="1104.22" stroke="#333333" stroke-width="2"/>
<text x="902.2" y="1114.92" text-anchor="end" fill="#4D4D4D" font-size="30">MAT</text>
<rect x="918.2" y="1167.86" width="254.68" height="42.43" fill="#A9A9A9"/>
<line x1="910.2" y1="1189.07" x2="918.2" y2="1189.07" stroke="#333333" stroke-width="2"/>
<text x="902.2" y="1199.77" text-anchor="end" fill="#4D4D4D" font-size="30">Slope</text>
<rect x="918.2" y="1252.71" width="223.47" height="42.43" fill="#4169E1"/>
<line x1="910.2" y1="1273.93" x2="918.2" y2="1273.93" stroke="#333333" stroke-width="2"/>
<text x="902.2" y="1284.63" text-anchor="end" fill="#4D4D4D" font-size="30">MAP</text>
<rect x="918.2" y="1337.57" width="120.47" height="42.43" fill="#A9A9A9"/>
<line x1="910.2" y1="1358.78" x2="918.2" y2="1358.78" stroke="#333333" stroke-width="2"/>
<text x="902.2" y="1369.48" text-anchor="end" fill="#4D4D4D" font-size="30">Aspect</text>
<rect x="918.2" y="1422.42" width="81.90" height="42.43" fill="#D2691E"/>
<line x1="910.2" y1="1443.63" x2="918.2" y2="1443.63" stroke="#333333" stroke-width="2"/>
<text x="902.2" y="1454.33" text-anchor="end" fill="#4D4D4D" font-size="30">Clay</text>
<rect x="918.2" y="1507.27" width="29.34" height="42.43" fill="#D2691E"/>
<line x1="910.2" y1="1528.49" x2="918.2" y2="1528.49" stroke="#333333" stroke-width="2"/>
<text x="902.2" y="1539.19" text-anchor="end" fill="#4D4D4D" font-size="30">Soil type</text>
<rect x="918.2" y="883.6" width="561.80" height="695.80" fill="none" stroke="#333333" stroke-width="1.5"/>
<line x1="918.20" y1="1579.4" x2="918.20" y2="1587.4" stroke="#333333" stroke-width="2"/>
<text x="918.20" y="1616.9" text-anchor="middle" fill="#4D4D4D" font-size="30">0</text>
<line x1="1043.04" y1="1579.4" x2="1043.04" y2="1587.4" stroke="#333333" stroke-width="2"/>
<text x="1043.04" y="1616.9" text-anchor="middle" fill="#4D4D4D" font-size="30">10</text>
<line x1="1167.89" y1="1579.4" x2="1167.89" y2="1587.4" stroke="#333333" stroke-width="2"/>
<text x="1167.89" y="1616.9" text-anchor="middle" fill="#4D4D4D" font-size="30">20</text>
<line x1="1292.73" y1="1579.4" x2="1292.73" y2="1587.4" stroke="#333333" stroke-width="2"/>
<text x="1292.73" y="1616.9" text-anchor="middle" fill="#4D4D4D" font-size="30">30</text>
<line x1="1417.58" y1="1579.4" x2="1417.58" y2="1587.4" stroke="#333333" stroke-width="2"/>
<text x="1417.58" y="1616.9" text-anchor="middle" fill="#4D4D4D" font-size="30">40</text>
<text x="1199.1" y="1647.5" text-anchor="middle" fill="#000" font-size="30">Variable importance</text>
<text x="917.4000000000001" y="867.5" fill="#000" font-size="37">(d)</text>
</svg></body></html>
